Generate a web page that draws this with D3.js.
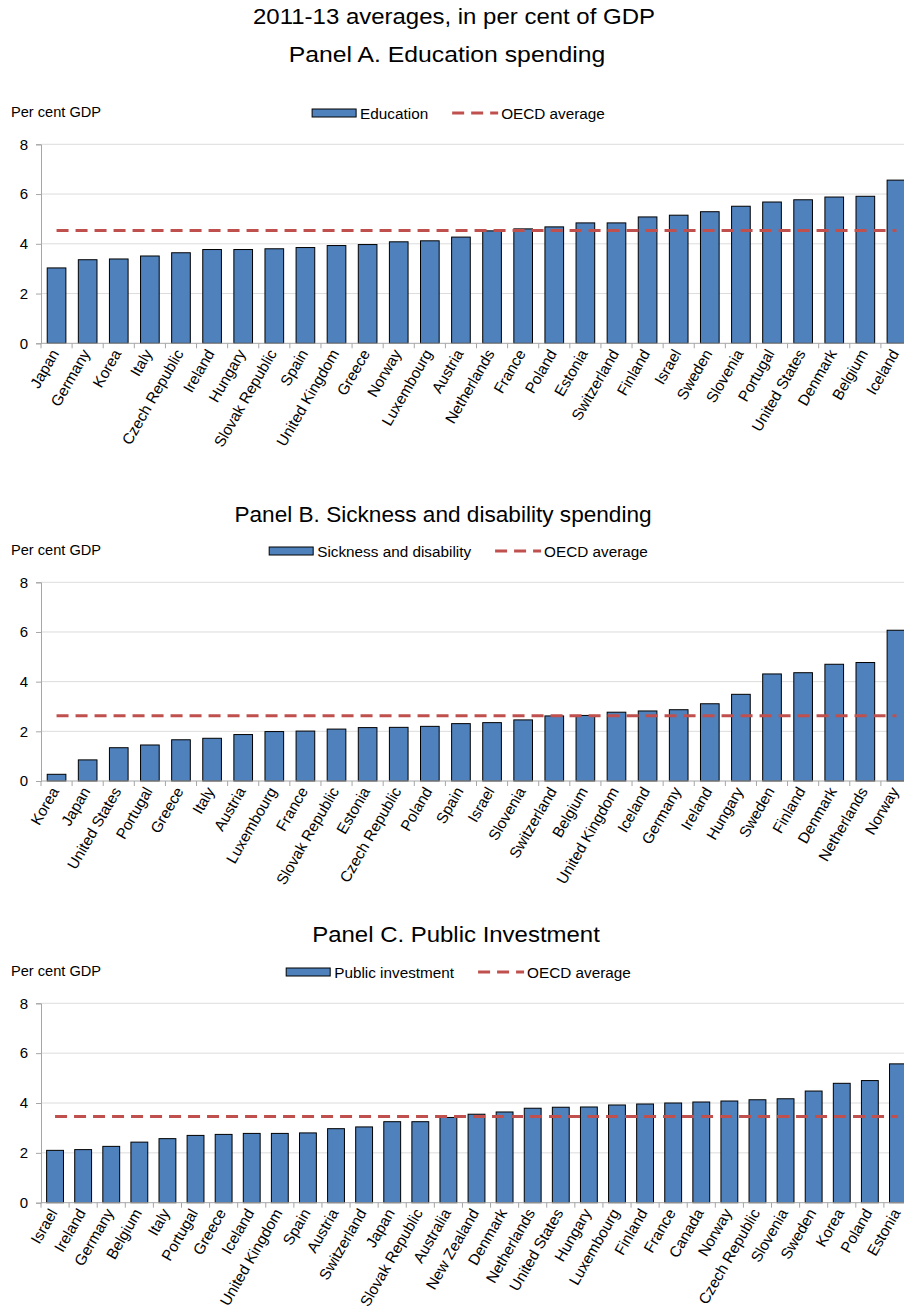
<!DOCTYPE html>
<html>
<head>
<meta charset="utf-8">
<script src="https://cdn.jsdelivr.net/npm/d3@7"></script>
<style>
  html, body { margin: 0; padding: 0; background: #fff; }
  svg { display: block; font-family: "Liberation Sans", Arial, Helvetica, sans-serif; }
</style>
</head>
<body>
<script>
// ---- Data (2011-13 averages, per cent of GDP) ----
const categoriesA = ["Japan","Germany","Korea","Italy","Czech Republic","Ireland","Hungary","Slovak Republic","Spain","United Kingdom","Greece","Norway","Luxembourg","Austria","Netherlands","France","Poland","Estonia","Switzerland","Finland","Israel","Sweden","Slovenia","Portugal","United States","Denmark","Belgium","Iceland"];
const valuesA = [3.03,3.36,3.39,3.51,3.64,3.77,3.77,3.80,3.85,3.93,3.97,4.08,4.12,4.27,4.52,4.60,4.68,4.84,4.84,5.08,5.15,5.29,5.51,5.68,5.77,5.88,5.91,6.56];
const averageA = 4.53;

const categoriesB = ["Korea","Japan","United States","Portugal","Greece","Italy","Austria","Luxembourg","France","Slovak Republic","Estonia","Czech Republic","Poland","Spain","Israel","Slovenia","Switzerland","Belgium","United Kingdom","Iceland","Germany","Ireland","Hungary","Sweden","Finland","Denmark","Netherlands","Norway"];
const valuesB = [0.27,0.85,1.34,1.45,1.66,1.72,1.87,1.99,2.01,2.09,2.15,2.16,2.20,2.31,2.35,2.46,2.62,2.64,2.77,2.82,2.87,3.11,3.49,4.31,4.36,4.70,4.77,6.07];
const averageB = 2.63;

const categoriesC = ["Israel","Ireland","Germany","Belgium","Italy","Portugal","Greece","Iceland","United Kingdom","Spain","Austria","Switzerland","Japan","Slovak Republic","Australia","New Zealand","Denmark","Netherlands","United States","Hungary","Luxembourg","Finland","France","Canada","Norway","Czech Republic","Slovenia","Sweden","Korea","Poland","Estonia"];
const valuesC = [2.10,2.13,2.26,2.43,2.57,2.70,2.74,2.78,2.78,2.80,2.97,3.04,3.25,3.25,3.42,3.55,3.64,3.79,3.83,3.84,3.92,3.96,4.00,4.04,4.08,4.13,4.17,4.48,4.79,4.90,5.57];
const averageC = 3.46;

const yTicks = [0, 2, 4, 6, 8];
const mainTitle = "2011-13 averages, in per cent of GDP";
const unitLabel = "Per cent GDP";
const averageLabel = "OECD average";

// ---- Layout ----
const W = 904, H = 1315;
const plotLeft = 41, plotRight = 912;
const BAR = "#4f81bd", AVG = "#c0504d", GRID = "#dcdcdc", AXIS = "#a6a6a6";

const panels = [
  { title: "Panel A. Education spending", series: "Education",
    cats: categoriesA, vals: valuesA, avg: averageA,
    titleX: 447, titleY: 62, titleSx: 1.1,
    unitY: 117, legendY: 113, top: 144.3, bottom: 343.3 },
  { title: "Panel B. Sickness and disability spending", series: "Sickness and disability",
    cats: categoriesB, vals: valuesB, avg: averageB,
    titleX: 443, titleY: 522, titleSx: 1.005,
    unitY: 555, legendY: 551, top: 582.3, bottom: 781 },
  { title: "Panel C. Public Investment", series: "Public investment",
    cats: categoriesC, vals: valuesC, avg: averageC,
    titleX: 456, titleY: 942, titleSx: 1.065,
    unitY: 976, legendY: 972, top: 1003.3, bottom: 1202.7 }
];

const svg = d3.select("body").append("svg")
  .attr("width", W).attr("height", H)
  .attr("viewBox", `0 0 ${W} ${H}`);

// Heading text, optionally drawn slightly wide
function heading(sel, x, y, size, sx, str) {
  return sel.append("text")
    .attr("transform", `translate(${x},${y}) scale(${sx},1)`)
    .attr("text-anchor", "middle")
    .attr("font-size", size).attr("fill", "#000")
    .text(str);
}

heading(svg, 454, 24, 22, 1.09, mainTitle);

panels.forEach(p => {
  const g = svg.append("g");
  const data = p.cats.map((c, i) => ({ cat: c, val: p.vals[i] }));

  const x = d3.scaleBand().domain(p.cats).range([plotLeft, plotRight])
    .paddingInner(0.4).paddingOuter(0.2);
  const y = d3.scaleLinear().domain([0, 8]).range([p.bottom, p.top]);

  // Panel title
  heading(g, p.titleX, p.titleY, 22.5, p.titleSx, p.title);

  // Unit label
  g.append("text")
    .attr("x", 11).attr("y", p.unitY)
    .attr("font-size", 14.6).attr("fill", "#000")
    .text(unitLabel);

  // Legend (centred group)
  const lg = g.append("g");
  lg.append("rect")
    .attr("x", 0).attr("y", p.legendY - 4)
    .attr("width", 44).attr("height", 8)
    .attr("fill", BAR).attr("stroke", "#000").attr("stroke-width", 1);
  const t1 = lg.append("text")
    .attr("x", 48).attr("y", p.legendY + 5.5)
    .attr("font-size", 15.3).attr("fill", "#000")
    .text(p.series);
  const w1 = t1.node().getComputedTextLength();
  const dx = 48 + w1 + 24;
  lg.append("line")
    .attr("x1", dx).attr("x2", dx + 46)
    .attr("y1", p.legendY).attr("y2", p.legendY)
    .attr("stroke", AVG).attr("stroke-width", 3)
    .attr("stroke-dasharray", "12,7");
  const t2 = lg.append("text")
    .attr("x", dx + 49).attr("y", p.legendY + 5.5)
    .attr("font-size", 15.3).attr("fill", "#000")
    .text(averageLabel);
  const total = dx + 49 + t2.node().getComputedTextLength();
  lg.attr("transform", `translate(${458.5 - total / 2},0)`);

  // Gridlines
  g.append("g").selectAll("line")
    .data(yTicks.filter(t => t > 0))
    .join("line")
    .attr("x1", plotLeft).attr("x2", plotRight)
    .attr("y1", d => y(d)).attr("y2", d => y(d))
    .attr("stroke", GRID).attr("stroke-width", 1);

  // Y axis
  const yAxis = g.append("g")
    .attr("transform", `translate(${plotLeft},0)`)
    .call(d3.axisLeft(y).tickValues(yTicks).tickSize(5).tickPadding(8).tickFormat(d3.format("d")));
  yAxis.select(".domain").attr("stroke", AXIS);
  yAxis.selectAll(".tick line").attr("stroke", AXIS);
  yAxis.selectAll(".tick text")
    .attr("font-size", 15).attr("fill", "#000")
    .attr("font-family", "Liberation Sans, Arial, sans-serif");

  // Bars
  g.append("g").selectAll("rect")
    .data(data)
    .join("rect")
    .attr("x", d => x(d.cat))
    .attr("width", x.bandwidth())
    .attr("y", d => y(d.val))
    .attr("height", d => y(0) - y(d.val))
    .attr("fill", BAR)
    .attr("stroke", "#000")
    .attr("stroke-width", 1);

  // X axis baseline with band boundary ticks
  g.append("line")
    .attr("x1", plotLeft).attr("x2", plotRight)
    .attr("y1", y(0)).attr("y2", y(0))
    .attr("stroke", AXIS).attr("stroke-width", 1);
  const bounds = p.cats.map(c => x(c) - x.step() * x.paddingOuter());
  g.append("g").selectAll("line")
    .data(bounds)
    .join("line")
    .attr("x1", d => d).attr("x2", d => d)
    .attr("y1", y(0)).attr("y2", y(0) + 5)
    .attr("stroke", AXIS).attr("stroke-width", 1);

  // Category labels, rotated
  g.append("g").selectAll("text")
    .data(p.cats)
    .join("text")
    .attr("text-anchor", "end")
    .attr("font-size", 15.3).attr("fill", "#000")
    .attr("transform", c => `translate(${x(c) + x.bandwidth() / 2 + 3},${y(0) + 10}) rotate(-60)`)
    .text(c => c);

  // OECD average line (drawn over the bars)
  g.append("line")
    .attr("x1", x(p.cats[0]) + x.bandwidth() / 2)
    .attr("x2", x(p.cats[p.cats.length - 1]) + x.bandwidth() / 2)
    .attr("y1", y(p.avg)).attr("y2", y(p.avg))
    .attr("stroke", AVG).attr("stroke-width", 3)
    .attr("stroke-dasharray", "12,7");
});
</script>
</body>
</html>
